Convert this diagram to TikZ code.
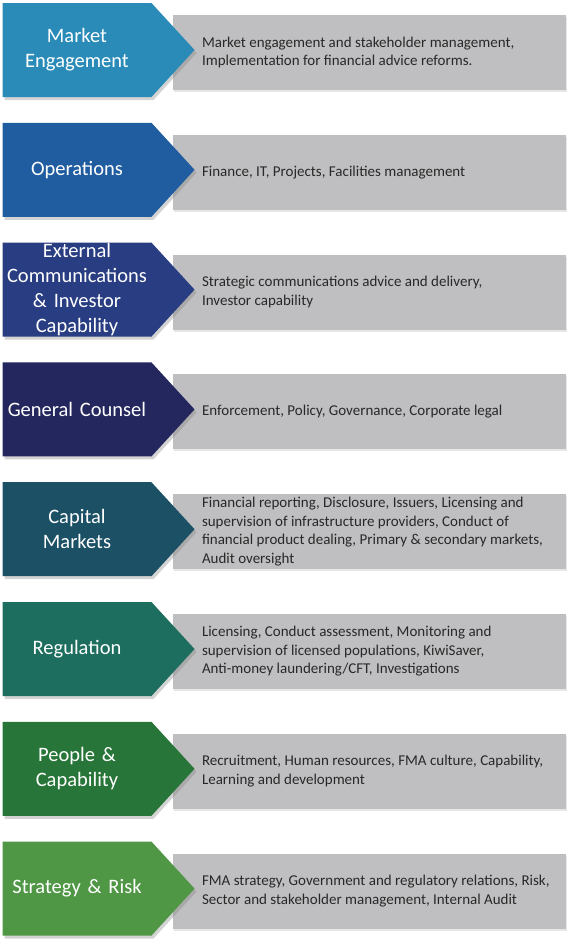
\documentclass[tikz,border=0pt]{standalone}
\usepackage{fontspec}
\setmainfont{Carlito}
\usepackage{tikz}
\usetikzlibrary{shapes.symbols, shadows, positioning}
\definecolor{mktcol}{RGB}{42,139,184}
\definecolor{opscol}{RGB}{31,93,160}
\definecolor{extcol}{RGB}{41,61,130}
\definecolor{gencol}{RGB}{35,39,94}
\definecolor{capcol}{RGB}{27,80,101}
\definecolor{regcol}{RGB}{30,110,95}
\definecolor{ppcol}{RGB}{39,117,56}
\definecolor{stratcol}{RGB}{79,150,69}
\definecolor{barcol}{RGB}{191,191,193}
\definecolor{inkcol}{RGB}{40,40,40}
\tikzstyle{unit} = [signal, signal to=east, signal pointer angle=95,
                    minimum width=192pt, minimum height=94pt, inner sep=0pt,
                    text width=146pt, align=center, text=white,
                    font=\fontsize{20.5}{25}\selectfont,
                    drop shadow={shadow xshift=2pt, shadow yshift=-3pt, opacity=0.35}]
\tikzstyle{bar}  = [rectangle, minimum width=393pt, minimum height=75pt, fill=barcol,
                    drop shadow={shadow xshift=1pt, shadow yshift=-2pt, opacity=0.2}]
\tikzstyle{note} = [inner sep=0pt, align=left, text=inkcol,
                    font=\fontsize{15}{18.5}\selectfont]

\begin{document}
\begin{tikzpicture}[x=1pt, y=1pt, node distance=44.4pt]
  \useasboundingbox (0,0) rectangle (567,-940);
  % grey bars
  \node (mktd)   [bar] at (369.5,-52.5) {};
  \node (opsd)   [bar, below=of mktd] {};
  \node (extd)   [bar, below=of opsd] {};
  \node (gend)   [bar, below=of extd] {};
  \node (capd)   [bar, below=of gend] {};
  \node (regd)   [bar, below=of capd] {};
  \node (ppd)    [bar, below=of regd] {};
  \node (stratd) [bar, below=of ppd]  {};
  % descriptions
  \node (mktn)   [note, right=29pt of mktd.west]   {Market engagement and stakeholder management,\\Implementation for financial advice reforms.};
  \node (opsn)   [note, right=29pt of opsd.west]   {Finance, IT, Projects, Facilities management};
  \node (extn)   [note, right=29pt of extd.west]   {Strategic communications advice and delivery,\\Investor capability};
  \node (genn)   [note, right=29pt of gend.west]   {Enforcement, Policy, Governance, Corporate legal};
  \node (capn)   [note, right=29pt of capd.west]   {Financial reporting, Disclosure, Issuers, Licensing and\\supervision of infrastructure providers, Conduct of\\financial product dealing, Primary \& secondary markets,\\Audit oversight};
  \node (regn)   [note, right=29pt of regd.west]   {Licensing, Conduct assessment, Monitoring and\\supervision of licensed populations, KiwiSaver,\\Anti-money laundering/CFT, Investigations};
  \node (ppn)    [note, right=29pt of ppd.west]    {Recruitment, Human resources, FMA culture, Capability,\\Learning and development};
  \node (stratn) [note, right=29pt of stratd.west] {FMA strategy, Government and regulatory relations, Risk,\\Sector and stakeholder management, Internal Audit};
  % units
  \node (mkt)   [unit, fill=mktcol,   left=-22pt of mktd,   yshift=2.5pt] {Market\\Engagement};
  \node (ops)   [unit, fill=opscol,   left=-22pt of opsd,   yshift=2.5pt] {Operations};
  \node (ext)   [unit, fill=extcol,   left=-22pt of extd,   yshift=2.5pt] {External\\Communications\\\& Investor\\Capability};
  \node (gen)   [unit, fill=gencol,   left=-22pt of gend,   yshift=2.5pt] {General Counsel};
  \node (cap)   [unit, fill=capcol,   left=-22pt of capd,   yshift=2.5pt] {Capital\\Markets};
  \node (reg)   [unit, fill=regcol,   left=-22pt of regd,   yshift=2.5pt] {Regulation};
  \node (pp)    [unit, fill=ppcol,    left=-22pt of ppd,    yshift=2.5pt] {People \&\\Capability};
  \node (strat) [unit, fill=stratcol, left=-22pt of stratd, yshift=2.5pt] {Strategy \& Risk};
\end{tikzpicture}
\end{document}
